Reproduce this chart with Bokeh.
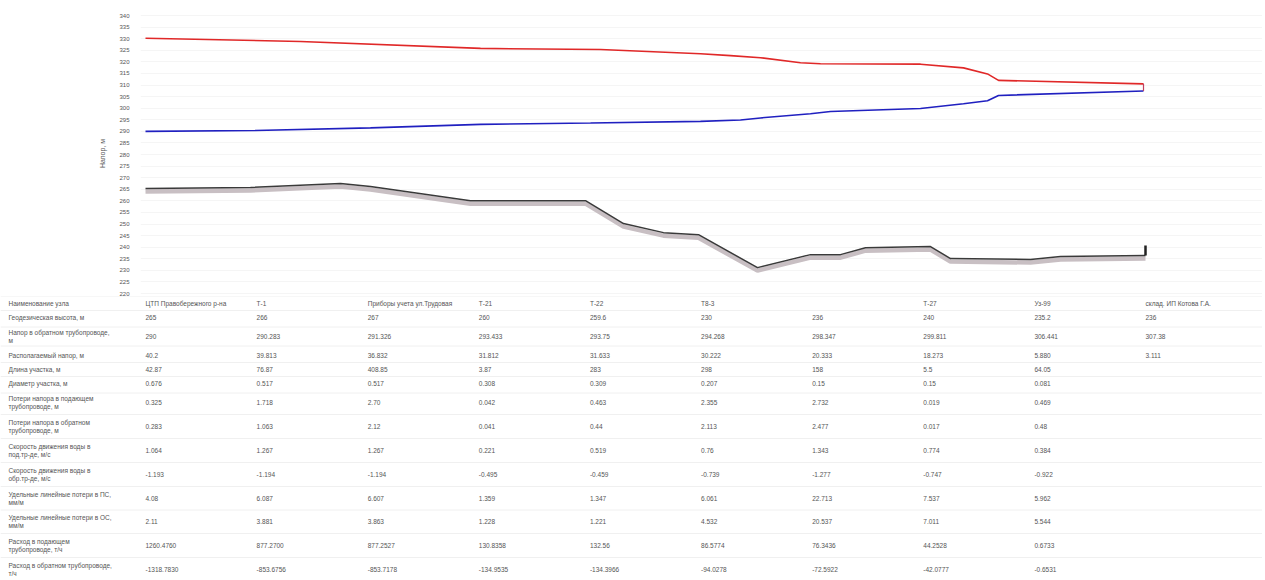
from bokeh.plotting import figure
from bokeh.models import ColumnDataSource, Range1d, FixedTicker
from bokeh.core.properties import value
from bokeh.embed import file_html
from bokeh.resources import INLINE

# ---- profile data (x in node-index units along the route) ----
supply_x = [0.0, 1.395, 3.015, 4.095, 4.995, 5.265, 5.535, 5.895, 6.075, 6.975, 7.362, 7.578, 7.677, 8.982]
supply_h = [330.2, 328.8, 325.8, 325.3, 323.5, 322.7, 321.8, 319.6, 319.2, 319.0, 317.4, 314.8, 312.0, 310.5]

return_x = [0.0, 0.99, 2.025, 3.015, 4.005, 4.995, 5.355, 5.535, 5.985, 6.165, 6.975, 7.362, 7.578, 7.677, 8.982]
return_h = [290.0, 290.4, 291.5, 293.0, 293.6, 294.3, 294.9, 295.8, 297.6, 298.6, 299.9, 301.9, 303.2, 305.5, 307.4]

ground_x = [0.0, 0.945, 1.755, 2.025, 2.925, 3.96, 4.302, 4.662, 4.977, 5.508, 5.985, 6.255, 6.48, 7.065, 7.245, 7.965, 8.235, 9.0]
ground_h = [265.3, 265.8, 267.5, 266.2, 260.1, 260.1, 250.2, 246.3, 245.4, 231.2, 236.8, 236.8, 239.8, 240.3, 235.1, 234.7, 236.0, 236.4]
end_tick_x = [9.0, 9.0]
end_tick_h = [236.4, 240.7]

y_ticks = list(range(220, 345, 5))

# ---- table data ----
row_labels = [
    "Наименование узла",
    "Геодезическая высота, м",
    "Напор в обратном трубопроводе,\nм",
    "Располагаемый напор, м",
    "Длина участка, м",
    "Диаметр участка, м",
    "Потери напора в подающем\nтрубопроводе, м",
    "Потери напора в обратном\nтрубопроводе, м",
    "Скорость движения воды в\nпод.тр-де, м/с",
    "Скорость движения воды в\nобр.тр-де, м/с",
    "Удельные линейные потери в ПС,\nмм/м",
    "Удельные линейные потери в ОС,\nмм/м",
    "Расход в подающем\nтрубопроводе, т/ч",
    "Расход в обратном трубопроводе,\nт/ч",
]
node_names = ["ЦТП Правобережного р-на", "Т-1", "Приборы учета ул.Трудовая", "Т-21", "Т-22",
              "Т8-3", "", "Т-27", "Уз-99", "склад. ИП Котова Г.А."]
geo_height = ["265", "266", "267", "260", "259.6", "230", "236", "240", "235.2", "236"]
return_head = ["290", "290.283", "291.326", "293.433", "293.75", "294.268", "298.347", "299.811", "306.441", "307.38"]
avail_head = ["40.2", "39.813", "36.832", "31.812", "31.633", "30.222", "20.333", "18.273", "5.880", "3.111"]
seg_length = ["42.87", "76.87", "408.85", "3.87", "283", "298", "158", "5.5", "64.05", ""]
seg_diam = ["0.676", "0.517", "0.517", "0.308", "0.309", "0.207", "0.15", "0.15", "0.081", ""]
loss_sup = ["0.325", "1.718", "2.70", "0.042", "0.463", "2.355", "2.732", "0.019", "0.469", ""]
loss_ret = ["0.283", "1.063", "2.12", "0.041", "0.44", "2.113", "2.477", "0.017", "0.48", ""]
vel_sup = ["1.064", "1.267", "1.267", "0.221", "0.519", "0.76", "1.343", "0.774", "0.384", ""]
vel_ret = ["-1.193", "-1.194", "-1.194", "-0.495", "-0.459", "-0.739", "-1.277", "-0.747", "-0.922", ""]
spec_sup = ["4.08", "6.087", "6.607", "1.359", "1.347", "6.061", "22.713", "7.537", "5.962", ""]
spec_ret = ["2.11", "3.881", "3.863", "1.228", "1.221", "4.532", "20.537", "7.011", "5.544", ""]
flow_sup = ["1260.4760", "877.2700", "877.2527", "130.8358", "132.56", "86.5774", "76.3436", "44.2528", "0.6733", ""]
flow_ret = ["-1318.7830", "-853.6756", "-853.7178", "-134.9535", "-134.3966", "-94.0278", "-72.5922", "-42.0777", "-0.6531", ""]

table_rows = [node_names, geo_height, return_head, avail_head, seg_length, seg_diam, loss_sup, loss_ret,
              vel_sup, vel_ret, spec_sup, spec_ret, flow_sup, flow_ret]

FONT = "Liberation Sans"
TXT = "#555555"

# ---- chart ----
p = figure(width=1262, height=296, output_backend="svg", toolbar_location=None,
           x_range=Range1d(-0.045, 10.053), y_range=Range1d(219.6, 341.3),
           min_border_left=140, min_border_right=0, min_border_top=12, min_border_bottom=2)
p.outline_line_color = None
p.xaxis.visible = False
p.xgrid.grid_line_color = None
p.ygrid.grid_line_color = "#f5f5f5"
p.yaxis.ticker = FixedTicker(ticks=y_ticks)
p.ygrid.ticker = FixedTicker(ticks=y_ticks)
p.yaxis.axis_line_color = None
p.yaxis.major_tick_line_color = None
p.yaxis.minor_tick_line_color = None
p.yaxis.major_label_text_font_size = "6px"
p.yaxis.major_label_text_color = TXT
p.yaxis.major_label_text_font = FONT
p.yaxis.major_label_standoff = 5
p.yaxis.axis_label = "Напор, м"
p.yaxis.axis_label_text_font_size = "7px"
p.yaxis.axis_label_text_font_style = "normal"
p.yaxis.axis_label_text_color = TXT
p.yaxis.axis_label_text_font = FONT
p.yaxis.axis_label_standoff = 10

shadow_h = [h - 1.3 for h in ground_h]
p.line(ground_x, shadow_h, line_color="#c8bfc3", line_width=4.5)
p.line(ground_x, ground_h, line_color="#3a3a3a", line_width=1.5)
p.line(end_tick_x, end_tick_h, line_color="#222222", line_width=2.5)

p.line(supply_x, supply_h, line_color="#e02828", line_width=1.6)
p.line(return_x, return_h, line_color="#2020c0", line_width=1.6)
p.line([supply_x[-1], return_x[-1]], [supply_h[-1], return_h[-1]], line_color="#c04060", line_width=1.2)

# ---- table ----
row_y = [7, 21, 40, 59, 73, 87, 106, 130, 154, 178, 202, 225, 249, 273]
t = figure(width=1262, height=283, output_backend="svg", toolbar_location=None,
           x_range=Range1d(-1.305, 10.053), y_range=Range1d(283, 0),
           min_border_left=0, min_border_right=0, min_border_top=0, min_border_bottom=0)
t.outline_line_color = None
t.xaxis.visible = False
t.yaxis.visible = False
t.grid.grid_line_color = None

bounds = [0] + [(row_y[i] + row_y[i + 1]) / 2 for i in range(len(row_y) - 1)]
t.segment(x0=[-1.305] * len(bounds), x1=[10.053] * len(bounds), y0=bounds, y1=bounds,
          line_color="#f0f0f0", line_width=1)

xs, ys, texts = [], [], []
for i, lab in enumerate(row_labels):
    xs.append(-1.233)
    ys.append(row_y[i])
    texts.append(lab)
    for j, v in enumerate(table_rows[i]):
        xs.append(float(j))
        ys.append(row_y[i])
        texts.append(v)
src = ColumnDataSource(dict(x=xs, y=ys, text=texts))
t.text(x="x", y="y", text="text", source=src, text_font=value(FONT), text_font_size="6.5px",
       text_color=TXT, text_baseline="middle", text_align="left", text_line_height=1.1)

open("out.html", "w").write(file_html([p, t], INLINE))
